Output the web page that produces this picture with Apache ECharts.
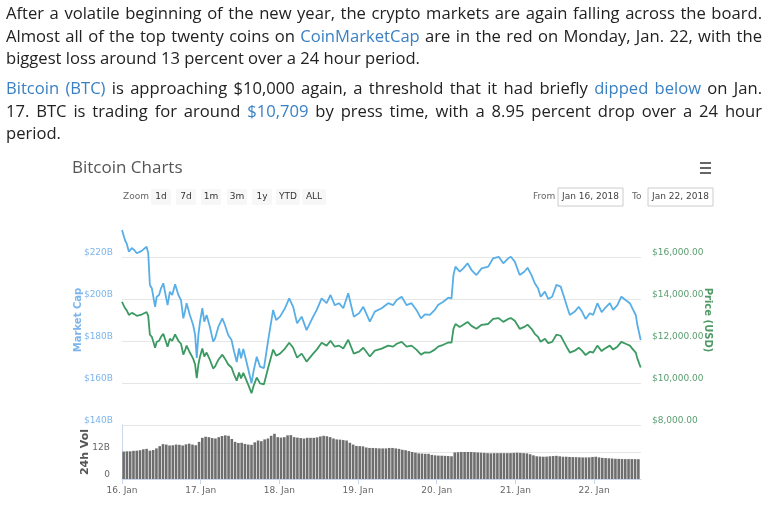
<!DOCTYPE html>
<html><head><meta charset="utf-8">
<script src="https://cdn.jsdelivr.net/npm/echarts@6/dist/echarts.min.js"></script>
<style>html,body{margin:0;padding:0;background:#fff}#c{width:768px;height:513px}</style>
</head><body><div id="c"></div>
<script>
// ---- data ----
const dayLabels = ['16. Jan','17. Jan','18. Jan','19. Jan','20. Jan','21. Jan','22. Jan'];
// hours since Jan 16 00:00
const hours = [0,0.9,1.4,2.1,3.0,3.75,4.5,6.0,7.5,8.0,
8.5,9.1,10.1,10.6,11.3,11.9,12.6,13.1,13.9,14.6,
15.3,16.2,17.2,18.0,18.7,19.2,19.7,20.7,21.7,22.3,
22.8,23.3,23.8,24.5,25.1,25.8,26.8,27.8,28.4,29.4,
30.6,31.4,32.4,33.4,34.2,35.0,35.7,36.3,37.0,37.7,
38.5,39.5,40.2,41.1,42.1,43.3,44.6,46.1,47.0,48.2,
49.7,51.0,52.2,53.4,54.8,56.3,58.3,59.4,60.9,62.4,
63.6,64.9,66.2,67.5,69.0,70.7,72.3,73.6,75.6,77.1,
79.2,81.2,82.7,83.8,85.3,86.8,88.3,89.8,91.2,92.4,
93.9,95.4,96.4,98.0,99.5,100.5,101.1,101.7,103.0,104.1,
105.4,106.6,108.1,109.7,111.7,113.2,114.9,116.3,117.8,118.6,
119.8,121.3,122.7,123.7,124.9,125.9,126.9,127.7,129.0,130.0,
131.2,132.5,133.8,134.8,135.9,136.6,138.1,139.3,140.3,141.4,
142.7,143.7,145.0,146.3,147.3,148.8,149.8,151.1,152.3,153.6,
154.9,155.9,156.7,157.2,158.2];
// market cap, billions USD
const marketCap = [232.9,228.1,226.5,222.5,224.3,223.3,221.8,222.9,224.9,221.9,
206.7,205.1,196.3,201.1,201.9,205.1,207.5,203.5,197.1,203.5,
201.9,207.0,201.9,199.5,190.8,194.0,198.0,192.4,187.6,182.9,
171.9,182.9,189.2,195.6,189.2,192.4,186.8,179.7,181.3,186.8,
190.8,187.6,182.9,180.5,174.9,170.0,176.5,171.8,176.2,171.8,
166.7,159.9,166.2,172.5,167.8,167.1,180.5,194.8,190.0,191.6,
195.6,200.3,196.3,188.4,191.6,185.2,191.6,194.8,200.3,198.0,
201.9,197.1,198.0,195.6,202.7,191.6,193.2,196.3,189.2,194.0,
195.6,198.0,197.1,199.5,201.1,197.1,198.0,194.8,190.8,192.7,
192.4,194.8,197.1,198.7,200.6,200.3,211.4,215.4,213.0,214.6,
217.0,213.8,211.4,214.6,215.4,219.4,220.1,217.0,219.4,220.1,
217.8,211.4,213.0,214.9,211.4,207.5,205.1,201.1,203.5,200.0,
201.1,206.7,205.9,201.1,195.6,192.4,194.0,196.3,194.0,190.5,
193.2,192.4,198.0,193.7,195.6,198.0,194.8,197.1,201.1,199.5,
198.0,194.8,192.4,187.6,180.5];
// price, USD
const price = [13860,13570,13470,13240,13340,13280,13200,13260,13380,13200,
12300,12200,11680,11960,12010,12200,12340,12110,11730,12110,
12010,12310,12010,11870,11350,11540,11780,11450,11160,10880,
10230,10880,11260,11640,11260,11450,11110,10690,10790,11110,
11350,11160,10880,10740,10400,10110,10500,10220,10480,10220,
9920,9510,9890,10260,9980,9940,10740,11590,11300,11400,
11640,11920,11680,11210,11400,11020,11400,11590,11920,11780,
12010,11730,11780,11640,12060,11400,11490,11680,11260,11540,
11640,11780,11730,11870,11960,11730,11780,11590,11350,11460,
11450,11590,11730,11820,11930,11920,12580,12810,12670,12770,
12910,12720,12580,12770,12810,13050,13090,12910,13050,13090,
12960,12580,12670,12780,12580,12340,12200,11960,12110,11900,
11960,12300,12250,11960,11640,11450,11540,11680,11540,11330,
11490,11450,11780,11520,11640,11780,11590,11730,11960,11870,
11780,11590,11450,11160,10740];
// hourly 24h volume, billions USD
const volume24h = [12.2,12.3,12.3,12.5,12.6,12.8,13.2,13.4,12.6,12.9,
13.6,14.6,15.5,15.3,14.9,15.0,15.3,15.2,14.9,15.4,
15.7,15.3,15.0,16.5,18.3,18.8,18.6,18.2,18.0,18.6,
19.1,19.4,19.2,17.8,16.5,16.0,16.1,15.6,15.3,15.2,
16.3,17.1,16.8,17.6,18.0,19.2,20.1,18.6,18.4,18.6,
19.4,19.5,18.6,18.4,18.2,18.0,18.3,18.3,18.3,18.5,
18.9,19.2,19.0,18.6,18.0,17.6,17.5,17.3,17.1,16.1,
15.3,14.7,14.6,14.5,14.0,13.8,13.8,13.7,13.6,13.6,
13.6,13.8,13.8,13.6,13.4,13.0,12.8,12.4,12.0,11.7,
11.4,11.3,11.2,11.2,10.7,10.5,10.4,10.35,10.3,10.2,
10.1,11.8,11.9,12.0,12.0,12.0,12.0,11.9,11.8,11.7,
11.6,11.5,11.4,11.5,11.5,11.5,11.5,11.5,11.5,11.6,
11.7,11.6,11.5,11.4,11.0,10.5,10.1,10.0,9.9,9.95,
10.1,10.2,10.3,10.1,9.9,9.9,9.8,9.75,9.7,9.65,
9.6,9.6,9.6,9.8,9.9,9.6,9.4,9.3,9.2,9.1,
9.0,8.95,8.9,8.85,8.85,8.85,8.85,8.8];
const zoomButtons = ['1d','7d','1m','3m','1y','YTD','ALL'];
// article text: [segment, isLink]
const articleLines = [
  {segs:[['After a volatile beginning of the new year, the crypto markets are again falling across the board.',0]], justify:true},
  {segs:[['Almost all of the top twenty coins on ',0],['CoinMarketCap',1],[' are in the red on Monday, Jan. 22, with the',0]], justify:true},
  {segs:[['biggest loss around 13 percent over a 24 hour period.',0]], justify:false},
  {segs:[['Bitcoin (BTC)',1],[' is approaching $10,000 again, a threshold that it had briefly ',0],['dipped below',1],[' on Jan.',0]], justify:true},
  {segs:[['17. BTC is trading for around ',0],['$10,709',1],[' by press time, with a 8.95 percent drop over a 24 hour',0]], justify:true},
  {segs:[['period.',0]], justify:false}
];

// ---- layout ----
const END_H = 158.3;
const TXT_FONT = '"Open Sans"';
const TXT_SIZE = 16.6;
const lineY = [14, 37, 59, 89, 112, 134];
const graphics = [];
const cv = document.createElement('canvas').getContext('2d');
cv.font = TXT_SIZE + 'px ' + TXT_FONT;
articleLines.forEach((ln, li) => {
  const words = [];
  ln.segs.forEach(([t, l]) => t.split(' ').filter(w => w.length).forEach(w => words.push({t: w, l})));
  const widths = words.map(w => cv.measureText(w.t).width);
  const total = widths.reduce((a, b) => a + b, 0);
  const gap = ln.justify ? (756 - total) / (words.length - 1) : cv.measureText(' ').width;
  let x = 6;
  words.forEach((w, i) => {
    graphics.push({type: 'text', x: x, y: lineY[li], silent: true,
      style: {text: w.t, fontSize: TXT_SIZE, fontFamily: TXT_FONT, fill: w.l ? '#3a80c3' : '#222', verticalAlign: 'middle'}});
    x += widths[i] + gap;
  });
});
// chart title & hamburger
graphics.push({type: 'text', x: 72, y: 168, style: {text: 'Bitcoin Charts', fontSize: 17, fontFamily: TXT_FONT, fill: '#555', verticalAlign: 'middle'}});
[163, 168, 173].forEach(yy => graphics.push({type: 'rect', shape: {x: 700, y: yy - 1, width: 11, height: 2}, style: {fill: '#666'}}));
// range selector
const UI_FONT = 'DejaVu Sans';
graphics.push({type: 'text', x: 123, y: 197, style: {text: 'Zoom', fontSize: 9, fontFamily: UI_FONT, fill: '#666', verticalAlign: 'middle'}});
const btnCenters = [161, 186, 211, 237, 262, 288, 314];
zoomButtons.forEach((b, i) => {
  const w = b.length > 2 ? 24 : 20;
  graphics.push({type: 'rect', shape: {x: btnCenters[i] - w / 2, y: 189, width: w, height: 16, r: 2}, style: {fill: '#f7f7f7'}});
  graphics.push({type: 'text', x: btnCenters[i], y: 197, style: {text: b, fontSize: 9, fontFamily: UI_FONT, fill: '#333', align: 'center', verticalAlign: 'middle'}});
});
graphics.push({type: 'text', x: 533, y: 197, style: {text: 'From', fontSize: 9, fontFamily: UI_FONT, fill: '#666', verticalAlign: 'middle'}});
graphics.push({type: 'rect', shape: {x: 558, y: 188, width: 65, height: 18}, style: {fill: '#fff', stroke: '#ccc', lineWidth: 1}});
graphics.push({type: 'text', x: 590.5, y: 197, style: {text: 'Jan 16, 2018', fontSize: 9, fontFamily: UI_FONT, fill: '#444', align: 'center', verticalAlign: 'middle'}});
graphics.push({type: 'text', x: 632, y: 197, style: {text: 'To', fontSize: 9, fontFamily: UI_FONT, fill: '#666', verticalAlign: 'middle'}});
graphics.push({type: 'rect', shape: {x: 648, y: 188, width: 65, height: 18}, style: {fill: '#fff', stroke: '#ccc', lineWidth: 1}});
graphics.push({type: 'text', x: 680.5, y: 197, style: {text: 'Jan 22, 2018', fontSize: 9, fontFamily: UI_FONT, fill: '#444', align: 'center', verticalAlign: 'middle'}});

const dayTicks = dayLabels.map((_, i) => i * 24);
const chart = echarts.init(document.getElementById('c'), null, {renderer: 'canvas'});
chart.setOption({
  animation: false,
  grid: [
    {left: 122, right: 127, top: 215, height: 210},
    {left: 122, right: 127, top: 425, height: 54}
  ],
  xAxis: [
    {type: 'value', gridIndex: 0, min: 0, max: END_H, show: false},
    {type: 'value', gridIndex: 1, min: 0, max: END_H, interval: 24,
      axisLine: {show: true, lineStyle: {color: '#ccd6eb'}},
      axisTick: {show: true, length: 5, lineStyle: {color: '#ccd6eb'}, customValues: dayTicks},
      axisLabel: {customValues: dayTicks, formatter: v => dayLabels[Math.round(v / 24)] || '', color: '#666', fontSize: 9, fontFamily: UI_FONT, margin: 7},
      splitLine: {show: false}}
  ],
  yAxis: [
    {type: 'value', gridIndex: 0, position: 'left', min: 140, max: 240, interval: 20,
      name: 'Market Cap', nameLocation: 'middle', nameGap: 39, nameMoveOverlap: false,
      nameTextStyle: {color: '#7cb5ec', fontWeight: 'bold', fontSize: 10, fontFamily: UI_FONT},
      axisLine: {show: false}, axisTick: {show: false},
      axisLabel: {formatter: v => '$' + v + 'B', color: '#7cb5ec', fontSize: 9, fontFamily: UI_FONT, margin: 9, verticalAlign: 'bottom', showMaxLabel: false},
      splitLine: {show: true, showMaxLine: false, lineStyle: {color: '#e6e6e6'}}},
    {type: 'value', gridIndex: 0, position: 'right', min: 8000, max: 18000, interval: 2000,
      name: 'Price (USD)', nameLocation: 'middle', nameGap: 62, nameRotate: -90, nameMoveOverlap: false,
      nameTextStyle: {color: '#4f9a66', fontWeight: 'bold', fontSize: 10, fontFamily: UI_FONT},
      axisLine: {show: false}, axisTick: {show: false},
      axisLabel: {formatter: v => '$' + v.toLocaleString('en-US', {minimumFractionDigits: 2}), color: '#5a9e6f', fontSize: 9, fontFamily: UI_FONT, margin: 11, verticalAlign: 'bottom', showMaxLabel: false},
      splitLine: {show: false}},
    {type: 'value', gridIndex: 1, min: 0, max: 24, interval: 12,
      name: '24h Vol', nameLocation: 'middle', nameGap: 31, nameMoveOverlap: false,
      nameTextStyle: {color: '#555', fontWeight: 'bold', fontSize: 11, fontFamily: UI_FONT},
      axisLine: {show: true, lineStyle: {color: '#ccd6eb'}}, axisTick: {show: false},
      axisLabel: {formatter: v => v === 0 ? '0' : v + 'B', color: '#666', fontSize: 9, fontFamily: UI_FONT, margin: 12, verticalAlign: 'bottom', showMaxLabel: false},
      splitLine: {show: true, lineStyle: {color: '#e6e6e6'}}}
  ],
  series: [
    {type: 'line', xAxisIndex: 0, yAxisIndex: 0, data: hours.map((h, i) => [h, marketCap[i]]),
      showSymbol: false, lineStyle: {color: '#58aee6', width: 1.8}, itemStyle: {color: '#58aee6'}, z: 3},
    {type: 'line', xAxisIndex: 0, yAxisIndex: 1, data: hours.map((h, i) => [h, price[i]]),
      showSymbol: false, lineStyle: {color: '#3b9a62', width: 1.8}, itemStyle: {color: '#3b9a62'}, z: 3},
    {type: 'bar', xAxisIndex: 1, yAxisIndex: 2, data: volume24h.map((v, i) => [i + 0.5, v]),
      barWidth: 2.6, itemStyle: {color: '#6e6e6e'}}
  ],
  graphic: graphics
});
</script></body></html>
